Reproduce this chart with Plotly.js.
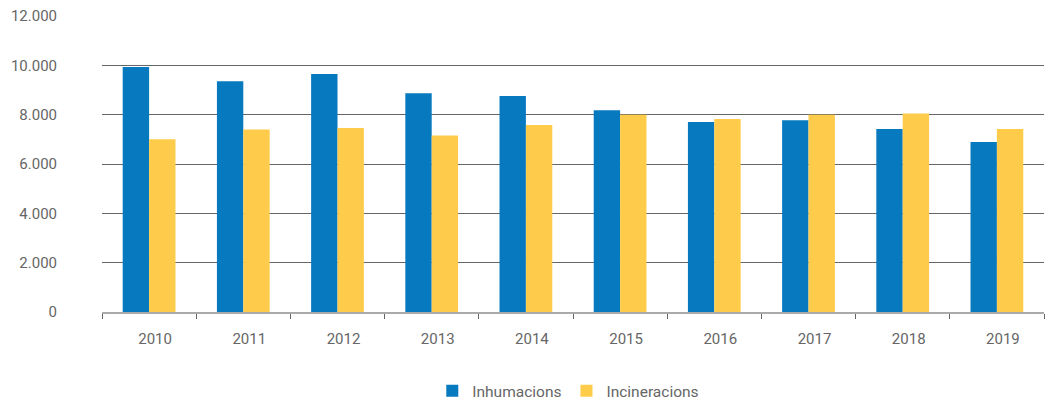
<!DOCTYPE html>
<html><head><meta charset="utf-8">
<script src="https://cdn.plot.ly/plotly-3.0.1.min.js"></script>
<style>html,body{margin:0;padding:0;background:#fff;}#chart{width:1048px;height:400px;}</style>
</head><body><div id="chart"></div>
<script>
const years = ['2010','2011','2012','2013','2014','2015','2016','2017','2018','2019'];
const inhumacions = [9930, 9350, 9650, 8870, 8760, 8180, 7700, 7770, 7420, 6890];
const incineracions = [7000, 7400, 7460, 7160, 7580, 8000, 7820, 8000, 8050, 7420];
const yTicks = [0, 2000, 4000, 6000, 8000, 10000, 12000];

const data = [
  {type:'bar', name:'Inhumacions', x:years, y:inhumacions, marker:{color:'#0779BF'}, hoverinfo:'y'},
  {type:'bar', name:'Incineracions', x:years, y:incineracions, marker:{color:'#FECC4A'}, hoverinfo:'y'}
];
const layout = {
  width:1048, height:400,
  margin:{l:102, r:4, t:16, b:88, autoexpand:false},
  paper_bgcolor:'#fff', plot_bgcolor:'#fff',
  separators:',.',
  barmode:'group', bargap:0.44, bargroupgap:0,
  font:{family:'Roboto, sans-serif', size:15, color:'#666'},
  xaxis:{type:'category', showgrid:false, showline:true, linecolor:'#aaa', linewidth:2,
         ticks:'outside', tickson:'boundaries', ticklen:5, tickcolor:'#666', tickwidth:1,
         tickfont:{size:15, color:'#666'}, ticklabelstandoff:12, ticklabelshift:6, automargin:false},
  yaxis:{range:[0,12000], tickvals:yTicks, tickformat:',d', showgrid:true, gridcolor:'#666', gridwidth:1,
         zeroline:false, showline:false, ticks:'', tickfont:{size:15, color:'#666'}, ticklabelstandoff:44, automargin:false},
  legend:{orientation:'h', x:0.495, xanchor:'center', yref:'container', y:0.022, yanchor:'middle',
          font:{size:15.5, color:'#666'}, itemwidth:30, traceorder:'normal'},
  showlegend:true
};
Plotly.newPlot('chart', data, layout, {displayModeBar:false, staticPlot:true});
</script>
</body></html>
